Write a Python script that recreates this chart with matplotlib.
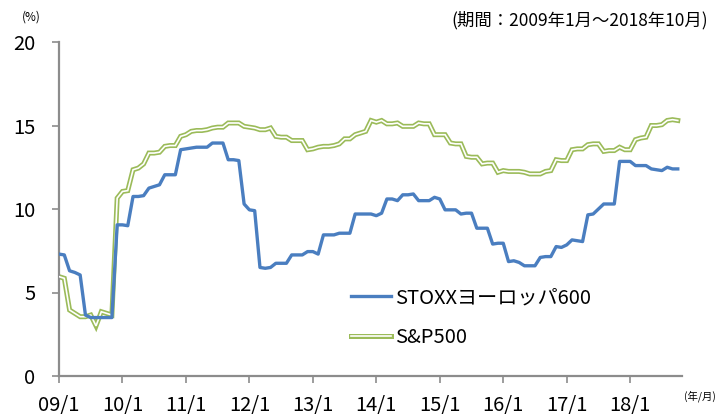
import matplotlib
matplotlib.use("Agg")
import matplotlib.pyplot as plt
from matplotlib.lines import Line2D

plt.rcParams['font.family'] = ['Noto Sans CJK JP', 'DejaVu Sans']

stoxx = [7.3, 7.25, 6.3, 6.2, 6.05, 3.65, 3.5, 3.5, 3.5, 3.5,
         3.5, 9.05, 9.05, 9.0, 10.75, 10.75, 10.8, 11.25, 11.35, 11.45,
         12.05, 12.05, 12.05, 13.55, 13.6, 13.65, 13.7, 13.7, 13.7, 13.95,
         13.95, 13.95, 12.95, 12.95, 12.9, 10.3, 9.95, 9.9, 6.5, 6.45,
         6.5, 6.75, 6.75, 6.75, 7.25, 7.25, 7.25, 7.45, 7.45, 7.3,
         8.45, 8.45, 8.45, 8.55, 8.55, 8.55, 9.7, 9.7, 9.7, 9.7,
         9.6, 9.75, 10.6, 10.6, 10.5, 10.85, 10.85, 10.9, 10.5, 10.5,
         10.5, 10.7, 10.6, 9.95, 9.95, 9.95, 9.7, 9.75, 9.75, 8.85,
         8.85, 8.85, 7.9, 7.95, 7.95, 6.85, 6.9, 6.8, 6.6, 6.6,
         6.6, 7.1, 7.15, 7.15, 7.75, 7.7, 7.85, 8.15, 8.1, 8.05,
         9.65, 9.7, 10.0, 10.3, 10.3, 10.3, 12.85, 12.85, 12.85, 12.6,
         12.6, 12.6, 12.4, 12.35, 12.3, 12.5, 12.4, 12.4]

sp500 = [5.95, 5.85, 3.95, 3.75, 3.55, 3.55, 3.65, 3.0, 3.85, 3.75,
         3.65, 10.65, 11.05, 11.1, 12.35, 12.45, 12.7, 13.35, 13.35, 13.4,
         13.75, 13.8, 13.8, 14.35, 14.45, 14.65, 14.7, 14.7, 14.75, 14.85,
         14.9, 14.9, 15.15, 15.15, 15.15, 14.95, 14.9, 14.85, 14.75, 14.75,
         14.85, 14.35, 14.3, 14.3, 14.1, 14.1, 14.1, 13.55, 13.6, 13.7,
         13.75, 13.75, 13.8, 13.9, 14.2, 14.2, 14.45, 14.55, 14.65, 15.3,
         15.2, 15.3, 15.1, 15.1, 15.15, 14.95, 14.95, 14.95, 15.15, 15.1,
         15.1, 14.45, 14.45, 14.45, 13.95, 13.9, 13.9, 13.15, 13.1, 13.1,
         12.7, 12.75, 12.75, 12.2, 12.3, 12.25, 12.25, 12.25, 12.2, 12.1,
         12.1, 12.1, 12.25, 12.3, 12.95, 12.9, 12.9, 13.55, 13.6, 13.6,
         13.85, 13.9, 13.9, 13.45, 13.5, 13.5, 13.7, 13.55, 13.55, 14.15,
         14.25, 14.3, 15.0, 15.0, 15.05, 15.3, 15.35, 15.3]

x_tick_labels = ['09/1', '10/1', '11/1', '12/1', '13/1', '14/1', '15/1',
                 '16/1', '17/1', '18/1']
y_ticks = [0, 5, 10, 15, 20]

months = list(range(len(stoxx)))
blue = '#4A7EC0'
green = '#9BBB59'
axis_gray = '#8C8C8C'

fig = plt.figure(figsize=(7.21, 4.16), dpi=100)
ax = fig.add_axes([59/721, 1 - 376/416, (682 - 59)/721, (376 - 42)/416])

ax.plot(months, sp500, color=green, lw=3.6, solid_joinstyle='miter', zorder=2)
ax.plot(months, sp500, color='white', lw=1.2, solid_joinstyle='miter', zorder=3)
ax.plot(months, stoxx, color=blue, lw=2.4, zorder=4)

ax.set_xlim(0, 117.8)
ax.set_ylim(0, 20)
ax.set_xticks([12 * i for i in range(len(x_tick_labels))])
ax.set_xticklabels(x_tick_labels)
ax.set_yticks(y_ticks)
ax.set_yticklabels([str(v) for v in y_ticks])

for s in ['top', 'right']:
    ax.spines[s].set_visible(False)
for s in ['left', 'bottom']:
    ax.spines[s].set_color(axis_gray)
    ax.spines[s].set_linewidth(1.6)
ax.tick_params(axis='both', colors=axis_gray, width=1.2, length=5,
               labelcolor='black', labelsize=14.5)
ax.tick_params(axis='x', pad=9)
ax.tick_params(axis='y', pad=12)

fig.text(22/721, 1 - 17/416, '(%)', fontsize=8.5, ha='left', va='center')
fig.text(708/721, 1 - 20/416, '(期間：2009年1月～2018年10月)', fontsize=12.5,
         ha='right', va='center')
fig.text(716/721, 1 - 396/416, '(年/月)', fontsize=7.5, ha='right', va='center')

h_blue = Line2D([], [], color=blue, lw=2.4)
h_g1 = Line2D([], [], color=green, lw=3.6)
h_g2 = Line2D([], [], color='white', lw=1.2)
leg = ax.legend([h_blue, (h_g1, h_g2)], ['STOXXヨーロッパ600', 'S&P500'],
                loc='upper left', bbox_to_anchor=((343 - 59)/(682 - 59), (376 - 279)/(376 - 42)),
                frameon=False, fontsize=14.5, handlelength=2.0, handletextpad=0.2,
                labelspacing=0.95, borderaxespad=0)

fig.savefig('out.png', dpi=100)
